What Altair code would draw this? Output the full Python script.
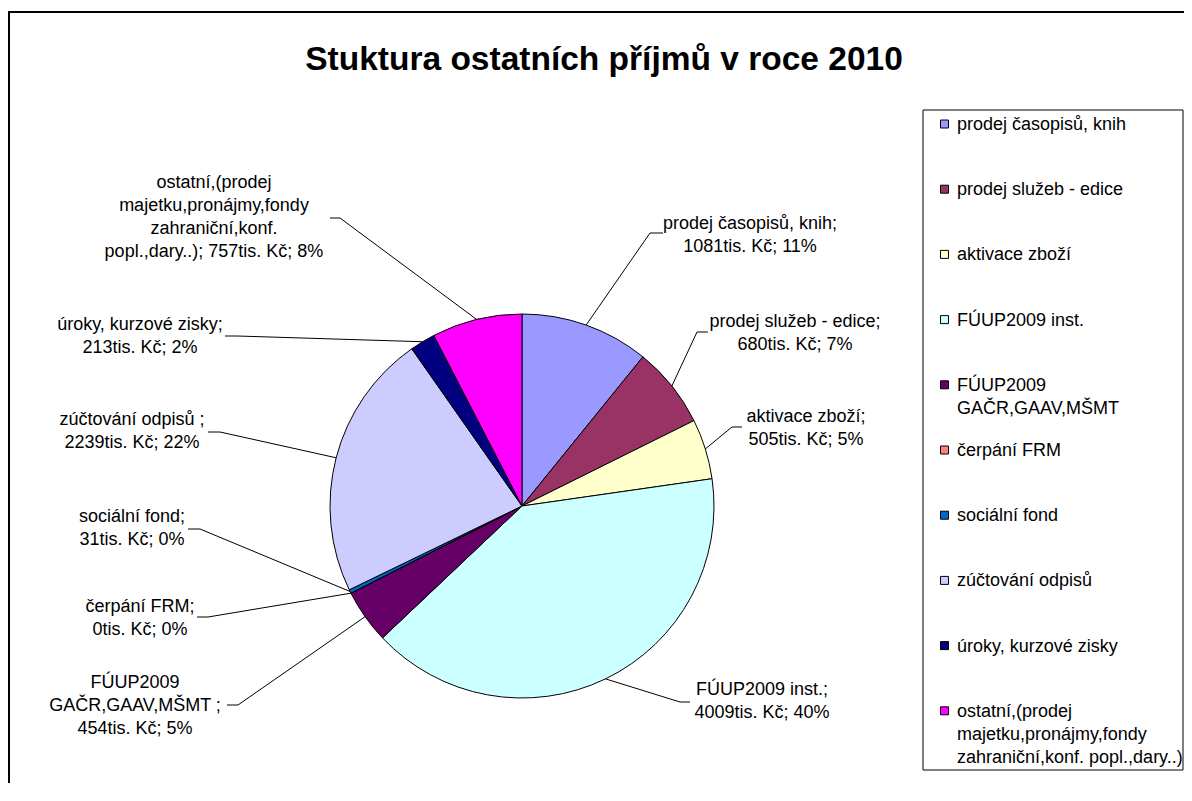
import altair as alt
import pandas as pd
import numpy as np

# ---------------- data ----------------
title_text = "Stuktura ostatních příjmů v roce 2010"
names = [
    "prodej časopisů, knih",
    "prodej služeb - edice",
    "aktivace zboží",
    "FÚUP2009 inst.",
    "FÚUP2009 GAČR,GAAV,MŠMT ",
    "čerpání FRM",
    "sociální fond",
    "zúčtování odpisů ",
    "úroky, kurzové zisky",
    "ostatní,(prodej majetku,pronájmy,fondy zahraniční,konf. popl.,dary..)",
]
values = [1081, 680, 505, 4009, 454, 0, 31, 2239, 213, 757]
colors = ["#9999FF", "#993366", "#FFFFCC", "#CCFFFF", "#660066",
          "#FF8080", "#0066CC", "#CCCCFF", "#000080", "#FF00FF"]
unit = "tis. Kč"

legend_lines = [
    ["prodej časopisů, knih"],
    ["prodej služeb - edice"],
    ["aktivace zboží"],
    ["FÚUP2009 inst."],
    ["FÚUP2009", "GAČR,GAAV,MŠMT"],
    ["čerpání FRM"],
    ["sociální fond"],
    ["zúčtování odpisů"],
    ["úroky, kurzové zisky"],
    ["ostatní,(prodej", "majetku,pronájmy,fondy", "zahraniční,konf. popl.,dary..)"],
]

total = sum(values)
pcts = [round(v / total * 100) for v in values]
label_lines = [
    [f"{names[0]};", f"{values[0]}{unit}; {pcts[0]}%"],
    [f"{names[1]};", f"{values[1]}{unit}; {pcts[1]}%"],
    [f"{names[2]};", f"{values[2]}{unit}; {pcts[2]}%"],
    [f"{names[3]};", f"{values[3]}{unit}; {pcts[3]}%"],
    ["FÚUP2009", "GAČR,GAAV,MŠMT ;", f"{values[4]}{unit}; {pcts[4]}%"],
    [f"{names[5]};", f"{values[5]}{unit}; {pcts[5]}%"],
    [f"{names[6]};", f"{values[6]}{unit}; {pcts[6]}%"],
    [f"{names[7]};", f"{values[7]}{unit}; {pcts[7]}%"],
    [f"{names[8]};", f"{values[8]}{unit}; {pcts[8]}%"],
    ["ostatní,(prodej", "majetku,pronájmy,fondy", "zahraniční,konf.",
     f"popl.,dary..); {values[9]}{unit}; {pcts[9]}%"],
]

# ---------------- layout (page pixels) ----------------
OFF = 8
W, H = 1176, 775
CX, CY, R = 522, 506, 192
FONT = "Liberation Sans, Arial, sans-serif"
FS = 18
LH = 23
label_pos = [(750, 224), (795, 322), (806, 417), (762, 690), (135, 683),
             (140, 607), (132, 517), (132, 420), (140, 325), (214, 183)]
leader_knee = [((650, 233), (663, 233)), ((697, 332), (708, 332)),
               ((732, 427), (742, 427)), ((680, 702), (690, 702)),
               ((238, 705), (227, 705)), ((208, 617), (197, 617)),
               ((200, 529), (188, 529)), ((220, 432), (208, 432)),
               ((237, 336), (225, 336)), ((340, 218), (330, 218))]
LEG_X0, LEG_X1, LEG_Y0, LEG_Y1 = 923, 1183, 110, 770
LEG_SW_X, LEG_TX_X, LEG_FIRST_Y, LEG_STEP = 944.5, 957, 125, 65.2

# ---------------- tables ----------------
pie_df = pd.DataFrame({"name": names, "value": values, "idx": range(len(names))})

cum = np.cumsum([0] + values)
rows = []
for i, n in enumerate(names):
    mid = (cum[i] + cum[i + 1]) / 2 / total * 2 * np.pi
    ex = CX + R * np.sin(mid)
    ey = CY - R * np.cos(mid)
    pts = [(ex, ey), leader_knee[i][0], leader_knee[i][1]]
    for s, (px, py) in enumerate(pts):
        rows.append({"name": n, "seq": s, "px": px - OFF, "py": py - OFF})
lead_df = pd.DataFrame(rows)

lab_rows = []
for i, lines in enumerate(label_lines):
    lx, ly = label_pos[i]
    for j, t in enumerate(lines):
        lab_rows.append({"px": lx - OFF, "py": ly + j * LH - OFF, "txt": t})
lab_df = pd.DataFrame(lab_rows)

leg_rows, sw_rows = [], []
for i, lines in enumerate(legend_lines):
    y0 = LEG_FIRST_Y + i * LEG_STEP
    sw_rows.append({"name": names[i], "px": LEG_SW_X - OFF, "py": y0 - 1 - OFF})
    for j, t in enumerate(lines):
        leg_rows.append({"px": LEG_TX_X - OFF, "py": y0 + j * LH - OFF, "txt": t})
leg_df = pd.DataFrame(leg_rows)
sw_df = pd.DataFrame(sw_rows)

color_scale = alt.Scale(domain=names, range=colors)
X = lambda f: alt.X(f, scale=None, axis=None)
Y = lambda f: alt.Y(f, scale=None, axis=None)
one = pd.DataFrame({"a": [0]})

pie = alt.Chart(pie_df).mark_arc(outerRadius=R, stroke="black", strokeWidth=1).encode(
    theta=alt.Theta("value:Q", stack=True),
    color=alt.Color("name:N", scale=color_scale, legend=None, sort=None),
    order=alt.Order("idx:Q"),
    x=alt.value(CX - OFF),
    y=alt.value(CY - OFF),
)

leaders = alt.Chart(lead_df).mark_line(color="black", strokeWidth=1).encode(
    x=X("px:Q"), y=Y("py:Q"), detail="name:N", order="seq:Q"
)

labels = alt.Chart(lab_df).mark_text(
    font=FONT, fontSize=FS, align="center", baseline="middle", color="black"
).encode(x=X("px:Q"), y=Y("py:Q"), text="txt:N")

leg_box = alt.Chart(one).mark_rect(fillOpacity=0, stroke="black", strokeWidth=1).encode(
    x=alt.value(LEG_X0 - OFF), x2=alt.value(LEG_X1 - OFF),
    y=alt.value(LEG_Y0 - OFF), y2=alt.value(LEG_Y1 - OFF),
)

swatches = alt.Chart(sw_df).mark_square(size=64, stroke="black", strokeWidth=1, opacity=1).encode(
    x=X("px:Q"), y=Y("py:Q"),
    color=alt.Color("name:N", scale=color_scale, legend=None, sort=None),
)

leg_text = alt.Chart(leg_df).mark_text(
    font=FONT, fontSize=FS, align="left", baseline="middle", color="black"
).encode(x=X("px:Q"), y=Y("py:Q"), text="txt:N")

title = alt.Chart(pd.DataFrame({"t": [title_text]})).mark_text(
    font=FONT, fontSize=33.5, fontWeight="bold", align="center", baseline="middle", color="black"
).encode(x=alt.value(604 - OFF), y=alt.value(60 - OFF), text="t:N")

frame_top = alt.Chart(one).mark_rule(color="black", strokeWidth=2).encode(
    x=alt.value(0), x2=alt.value(W), y=alt.value(12 - OFF)
)
frame_left = alt.Chart(one).mark_rule(color="black", strokeWidth=2).encode(
    x=alt.value(1), y=alt.value(12 - OFF), y2=alt.value(H)
)

chart = alt.layer(
    frame_top, frame_left, pie, leaders, labels, leg_box, swatches, leg_text, title
).properties(
    width=W, height=H, padding=0, autosize="none", background="white"
).configure_view(stroke=None)

chart.save("out.html", embed_options={"renderer": "svg", "actions": False})
